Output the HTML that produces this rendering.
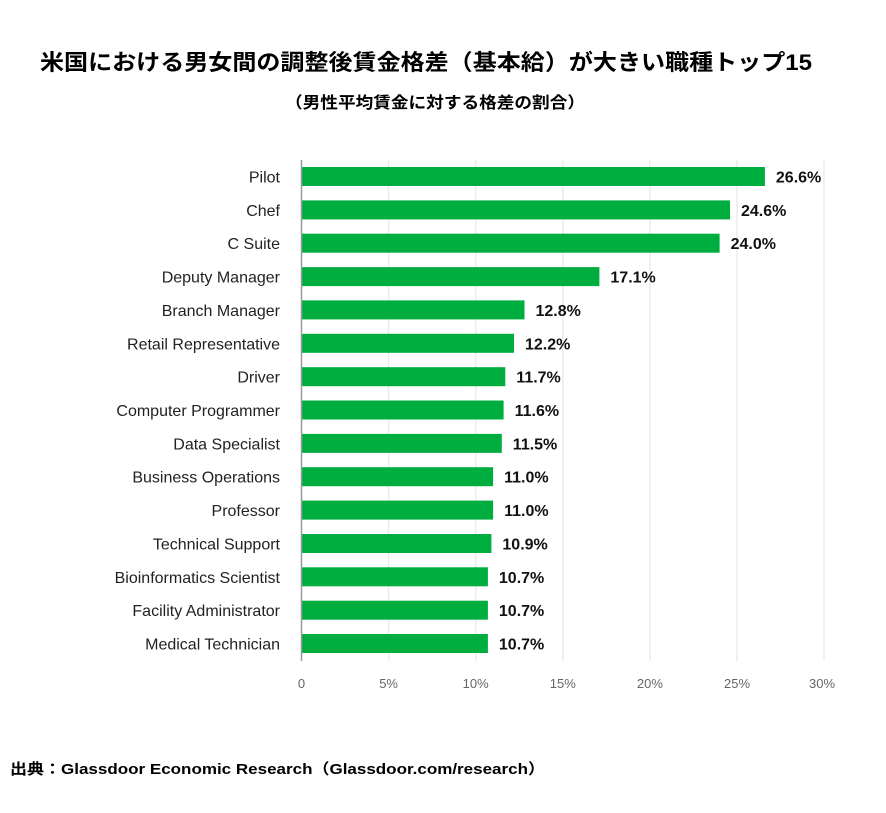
<!DOCTYPE html>
<html><head><meta charset="utf-8"><style>
html,body{margin:0;padding:0;background:#fff;}
</style></head><body>
<svg width="886" height="808" xmlns="http://www.w3.org/2000/svg" font-family="'Liberation Sans','Noto Sans CJK JP',sans-serif">
<rect width="886" height="808" fill="#fff"/>
<text x="40" y="70" font-size="22" font-weight="bold" fill="#000" textLength="772" lengthAdjust="spacingAndGlyphs">米国における男女間の調整後賃金格差（基本給）が大きい職種トップ15</text>
<text x="285" y="108" font-size="16" font-weight="bold" fill="#000" textLength="300" lengthAdjust="spacingAndGlyphs">（男性平均賃金に対する格差の割合）</text>
<g stroke="#ececec" stroke-width="1.5">
<line x1="388.6" y1="160" x2="388.6" y2="661"/>
<line x1="475.7" y1="160" x2="475.7" y2="661"/>
<line x1="562.8" y1="160" x2="562.8" y2="661"/>
<line x1="649.9" y1="160" x2="649.9" y2="661"/>
<line x1="737" y1="160" x2="737" y2="661"/>
<line x1="824" y1="160" x2="824" y2="661"/>
</g>
<g font-size="13" fill="#666" text-anchor="middle">
<text x="301.5" y="688">0</text><text x="388.6" y="688">5%</text><text x="475.7" y="688">10%</text><text x="562.8" y="688">15%</text><text x="649.9" y="688">20%</text><text x="737" y="688">25%</text><text x="822" y="688">30%</text>
</g>
<g fill="#00ad3f">
<rect x="301.5" y="167" width="463.4" height="19"/>
<rect x="301.5" y="200.4" width="428.5" height="19"/>
<rect x="301.5" y="233.7" width="418.1" height="19"/>
<rect x="301.5" y="267.1" width="297.9" height="19"/>
<rect x="301.5" y="300.4" width="223.0" height="19"/>
<rect x="301.5" y="333.8" width="212.5" height="19"/>
<rect x="301.5" y="367.2" width="203.8" height="19"/>
<rect x="301.5" y="400.5" width="202.1" height="19"/>
<rect x="301.5" y="433.9" width="200.3" height="19"/>
<rect x="301.5" y="467.2" width="191.6" height="19"/>
<rect x="301.5" y="500.6" width="191.6" height="19"/>
<rect x="301.5" y="534.0" width="189.9" height="19"/>
<rect x="301.5" y="567.3" width="186.4" height="19"/>
<rect x="301.5" y="600.7" width="186.4" height="19"/>
<rect x="301.5" y="634.0" width="186.4" height="19"/>
</g>
<g font-size="16" fill="#222" text-anchor="end">
<text x="280" y="182.5">Pilot</text>
<text x="280" y="215.9">Chef</text>
<text x="280" y="249.2">C Suite</text>
<text x="280" y="282.6">Deputy Manager</text>
<text x="280" y="315.9">Branch Manager</text>
<text x="280" y="349.3">Retail Representative</text>
<text x="280" y="382.7">Driver</text>
<text x="280" y="416">Computer Programmer</text>
<text x="280" y="449.4">Data Specialist</text>
<text x="280" y="482.7">Business Operations</text>
<text x="280" y="516.1">Professor</text>
<text x="280" y="549.5">Technical Support</text>
<text x="280" y="582.8">Bioinformatics Scientist</text>
<text x="280" y="616.2">Facility Administrator</text>
<text x="280" y="649.5">Medical Technician</text>
</g>
<g font-size="16" font-weight="bold" fill="#111">
<text x="775.9" y="182.5">26.6%</text>
<text x="741" y="215.9">24.6%</text>
<text x="730.6" y="249.2">24.0%</text>
<text x="610.4" y="282.6">17.1%</text>
<text x="535.5" y="315.9">12.8%</text>
<text x="525" y="349.3">12.2%</text>
<text x="516.3" y="382.7">11.7%</text>
<text x="514.6" y="416">11.6%</text>
<text x="512.8" y="449.4">11.5%</text>
<text x="504.1" y="482.7">11.0%</text>
<text x="504.1" y="516.1">11.0%</text>
<text x="502.4" y="549.5">10.9%</text>
<text x="498.9" y="582.8">10.7%</text>
<text x="498.9" y="616.2">10.7%</text>
<text x="498.9" y="649.5">10.7%</text>
</g>
<line x1="301.5" y1="160" x2="301.5" y2="661" stroke="#999" stroke-width="1.5"/>
<text x="10" y="774" font-size="15" font-weight="bold" fill="#000" textLength="535" lengthAdjust="spacingAndGlyphs">出典：Glassdoor Economic Research（Glassdoor.com/research）</text>
</svg>
</body></html>
